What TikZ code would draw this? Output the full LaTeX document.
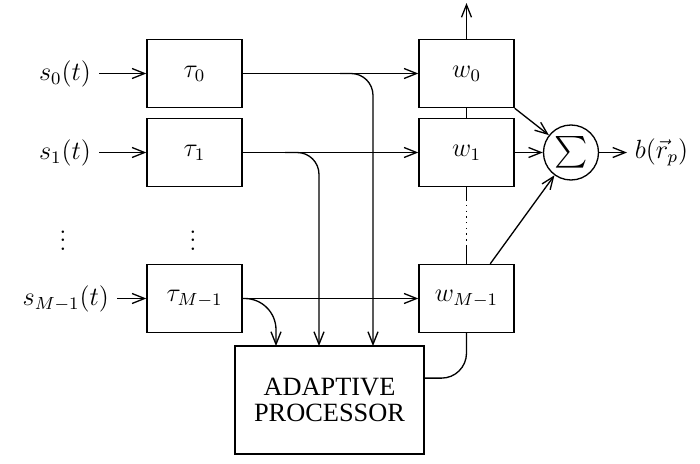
\documentclass[tikz,border=0pt]{standalone}
\usepackage{amsmath}
\usepackage{fontspec}
\newfontfamily\procfont{Liberation Serif}
\usetikzlibrary{arrows.meta}
\tikzset{blk/.style={draw,minimum width=1.52cm,minimum height=1.09cm},
>={Straight Barb[length=2mm,width=1.6mm]}}
\begin{document}
\begin{tikzpicture}[x=.16cm,y=-.16cm,line width=.6pt,font=\large]
\useasboundingbox(0,0)rectangle(70,46.4);
\foreach\i/\y/\x/\s in{0/7.35/9.9/0,1/15.25/9.9/1,M/29.85/11.7/{M-1}}{
\node[blk](t\i)at(19.45,\y){$\tau_{\s}$};
\node[blk](w\i)at(46.65,\y){$w_{\s}$};
\node[anchor=east](s\i)at(\x,\y){$s_{\s}(t)$};
\draw[->](s\i)--(t\i);
\draw[->](t\i)--(w\i);}
\node(v1)at(6.3,23.4){$\vdots$};
\node(v2)at(19.3,23.4){$\vdots$};
\node[draw,minimum width=3.02cm,minimum height=1.73cm,align=center,
font={\procfont\fontsize{12}{11.5}\selectfont}](p)at(32.95,40){ADAPTIVE\\PROCESSOR};
% taps into the processor
\coordinate(j0)at(34,7.35);
\coordinate(j1)at(28.5,15.25);
\coordinate(c0)at(37.3,34.6);
\coordinate(c1)at(31.9,34.6);
\coordinate(cM)at(27.6,34.6);
\draw[->,rounded corners=.35cm](j0)-|(c0);
\draw[->,rounded corners=.35cm](j1)-|(c1);
\draw[->,rounded corners=.5cm](tM.east)-|(cM);
% weights column
\coordinate(top)at(46.65,.3);
\draw[->](w0)--(top);
\draw(w0)--(w1);
\draw(w1.south)--++(0,1.2)coordinate(d1);
\draw[dotted](d1)--++(0,4.6)coordinate(d2);
\draw(d2)--(wM);
\draw[rounded corners=.4cm](wM.south)|-([yshift=.35cm]p.east);
\node[draw,circle,minimum size=.88cm,inner sep=0pt,font=\Large](sig)at(57.1,15.25){$\sum$};
\node[anchor=west](b)at(62.7,15.25){$b(\vec r_p)$};
\draw[->](w0.south east)--(sig);
\draw[->](w1)--(sig);
\draw[->]([xshift=.38cm]wM.north)--(sig);
\draw[->](sig)--(b);
\end{tikzpicture}
\end{document}
